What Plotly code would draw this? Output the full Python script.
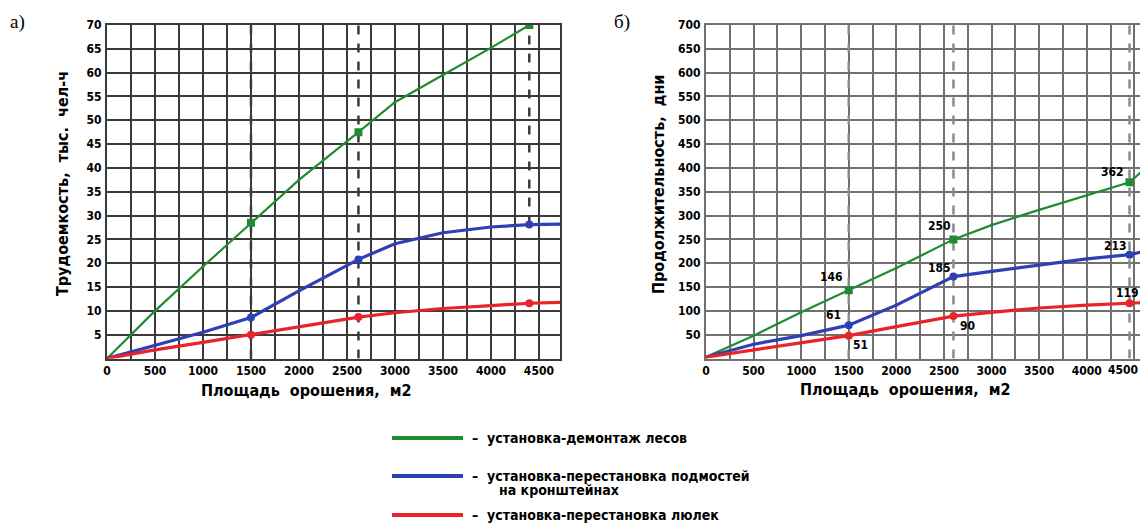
import plotly.graph_objects as go

# page body adds an 8px margin; figure sized to fit the visible part of the window
OFF = 8
W, H = 1148 - 2 * OFF, 526 - OFF

# ---------- panel a): labour intensity, thousand man-hours ----------
a_x = [0, 500, 1000, 1500, 2000, 2620, 3000, 3500, 4000, 4400, 4720]
a_green = [0, 10.0, 19.3, 28.5, 37.5, 47.5, 53.8, 59.5, 65.2, 70.0, None]
a_blue = [0, 2.8, 5.5, 8.6, 14.2, 20.8, 24.1, 26.4, 27.6, 28.1, 28.2]
a_red = [0, 1.8, 3.4, 5.0, 6.6, 8.7, 9.6, 10.5, 11.1, 11.6, 11.8]
a_key_idx = [3, 5, 9]
a_marks = [1500, 2620, 4400]

# ---------- panel б): duration, days ----------
b_x = [0, 500, 1000, 1500, 2000, 2600, 3000, 3500, 4000, 4450, 4560]
b_green = [3, 48, 97, 143, 190, 250, 280, 312, 342, 370, 389]
b_blue = [3, 30, 48, 70, 112, 172, 183, 196, 209, 218, 223]
b_red = [3, 18, 33, 48, 67, 89, 97, 106, 112, 116, 117]
b_key_idx = [3, 5, 9]
b_marks = [1500, 2600, 4450]
b_green_lbl = ["146", "250", "362"]
b_blue_lbl = ["61", "185", "213"]
b_red_lbl = ["51", "90", "119"]

x_ticks = [0, 500, 1000, 1500, 2000, 2500, 3000, 3500, 4000, 4500]
a_yticks = list(range(5, 75, 5))
b_yticks = list(range(50, 750, 50))

series_names = ["установка-демонтаж лесов",
                "установка-перестановка подмостей<br>на кронштейнах",
                "установка-перестановка люлек"]
GREEN, BLUE, RED = "#1f8c32", "#2f3fb4", "#e8242a"
colors = [GREEN, BLUE, RED]
widths = [2.2, 3.2, 3.2]

FONT = "DejaVu Sans Condensed, DejaVu Sans, sans-serif"


def fx(px):
    return (px - OFF) / W


def fy(py):
    return 1 - (py - OFF) / H


fig = go.Figure()


def add_series(xs, ys, key_idx, xa, ya, color, width, msym):
    pts = [(x, y) for x, y in zip(xs, ys) if y is not None]
    fig.add_trace(go.Scatter(x=[p[0] for p in pts], y=[p[1] for p in pts],
                             mode="lines+markers", xaxis=xa, yaxis=ya,
                             line=dict(color=color, width=width),
                             marker=dict(color=color, size=3),
                             showlegend=False, hoverinfo="skip"))
    fig.add_trace(go.Scatter(x=[xs[i] for i in key_idx], y=[ys[i] for i in key_idx],
                             mode="markers", xaxis=xa, yaxis=ya,
                             marker=dict(color=color, size=8, symbol=msym),
                             showlegend=False, hoverinfo="skip"))


for ys, c, w, s in zip([a_green, a_blue, a_red], colors, widths, ["square", "circle", "circle"]):
    add_series(a_x, ys, a_key_idx, "x", "y", c, w, s)
for ys, c, w, s in zip([b_green, b_blue, b_red], colors, widths, ["square", "circle", "circle"]):
    add_series(b_x, ys, b_key_idx, "x2", "y2", c, w, s)

ydom = [fy(358.5), fy(25)]
tickfont = dict(family=FONT, size=12, color="black", weight="bold")


def xaxis(dom, rng, gc, ticks):
    return dict(domain=dom, range=rng, tickvals=ticks, ticktext=[str(v) for v in ticks],
                showgrid=True, gridcolor=gc, gridwidth=1.6,
                minor=dict(dtick=250, tick0=0, showgrid=True, gridcolor=gc, gridwidth=1.6),
                showline=True, linecolor=gc, linewidth=2, mirror=True,
                zeroline=False, ticks="", tickfont=tickfont, automargin=False,
                fixedrange=True)


def yaxis(rng, vals, gc, anchor):
    return dict(domain=ydom, range=rng, tickvals=vals, ticktext=[str(v) for v in vals],
                showgrid=True, gridcolor=gc, gridwidth=1.6, anchor=anchor,
                showline=True, linecolor=gc, linewidth=2, mirror=True,
                zeroline=False, ticks="", tickfont=tickfont, automargin=False,
                ticklabelstandoff=1, fixedrange=True)


fig.update_layout(
    width=W, height=H, margin=dict(l=0, r=0, t=0, b=0),
    paper_bgcolor="white", plot_bgcolor="white",
    xaxis=xaxis([fx(107), fx(560)], [0, 4720], "#3a3a3a", x_ticks),
    yaxis=yaxis([0, 70], a_yticks, "#3a3a3a", "x"),
    xaxis2=dict(xaxis([fx(706), 1.0], [0, 4560], "#707070", x_ticks[:-1]), anchor="y2"),
    yaxis2=yaxis([0, 700], b_yticks, "#707070", "x2"),
)

shapes = []
# dashed reference lines
for i, xv in enumerate(a_marks):
    y0 = a_blue[a_key_idx[i]] if i == 2 else 0
    shapes.append(dict(type="line", xref="x", yref="y", x0=xv, x1=xv, y0=y0, y1=70,
                       line=dict(color="#3a3a3a", width=2.5, dash="dash"), layer="between"))
for xv in b_marks:
    shapes.append(dict(type="line", xref="x2", yref="y2", x0=xv, x1=xv, y0=0, y1=700,
                       line=dict(color="#8a8a8a", width=2.5, dash="dash"), layer="between"))

annotations = []
# last tick label of panel б sits at the window edge: keep it inside
annotations.append(dict(x=1.0, y=0, xref="paper", yref="y2", text=str(x_ticks[-1]),
                        showarrow=False, xanchor="right", yanchor="top", yshift=-2,
                        font=tickfont))
# data labels on panel б
offs = {"146": (-17, 13), "250": (-14, 13), "362": (-17, 10),
        "61": (-15, 10), "185": (-14, 9), "213": (-14, 9),
        "51": (12, -9), "90": (14, -10), "119": (-2, 10)}
for ys, lbls in zip([b_green, b_blue, b_red], [b_green_lbl, b_blue_lbl, b_red_lbl]):
    for i, t in zip(b_key_idx, lbls):
        dx, dy = offs[t]
        annotations.append(dict(x=b_x[i], y=ys[i], xref="x2", yref="y2", text=t,
                                showarrow=False, xshift=dx, yshift=dy,
                                font=dict(family=FONT, size=12, color="black", weight="bold")))

titlefont = dict(family=FONT, size=16, color="black", weight="bold")


def pann(px, py, text, angle=0, font=titlefont, xanchor="center"):
    annotations.append(dict(x=fx(px), y=fy(py), xref="paper", yref="paper", text=text,
                            showarrow=False, textangle=angle, font=font,
                            xanchor=xanchor, yanchor="middle"))


pann(62, 184, "Трудоемкость,  тыс.  чел-ч", angle=-90)
pann(306, 390, "Площадь  орошения,  м2")
pann(658, 185, "Продолжительность,  дни", angle=-90)
pann(905, 389, "Площадь  орошения,  м2")
serif = dict(family="Liberation Serif, serif", size=19, color="black")
pann(8, 22, "а)", font=serif, xanchor="left")
pann(612, 22, "б)", font=serif, xanchor="left")

# legend
leg_y = [438, 476, 515]
legfont = dict(family=FONT, size=14, color="black", weight="bold")
for c, py, name in zip(colors, leg_y, series_names):
    shapes.append(dict(type="line", xref="paper", yref="paper",
                       x0=fx(392), x1=fx(463), y0=fy(py), y1=fy(py),
                       line=dict(color=c, width=4)))
    parts = name.split("<br>")
    annotations.append(dict(x=fx(470), y=fy(py), xref="paper", yref="paper",
                            text="–  " + parts[0], showarrow=False, xanchor="left",
                            yanchor="middle", font=legfont))
    if len(parts) > 1:
        annotations.append(dict(x=fx(497), y=fy(py + 14), xref="paper", yref="paper",
                                text=parts[1], showarrow=False, xanchor="left",
                                yanchor="middle", font=legfont))

fig.update_layout(shapes=shapes, annotations=annotations)
fig.write_html("out.html")
